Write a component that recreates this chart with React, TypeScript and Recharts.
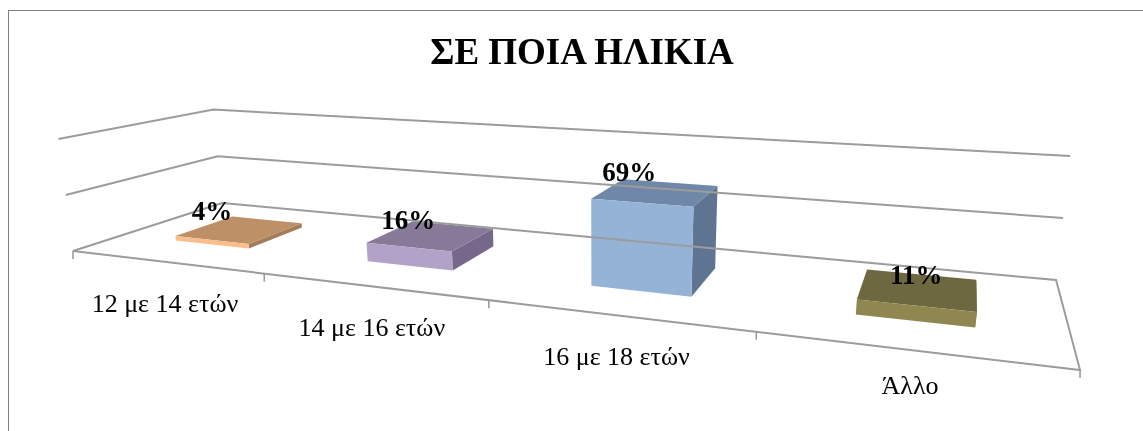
import React from 'react';
import { BarChart, Bar, XAxis, YAxis, ReferenceLine, LabelList } from 'recharts';

// ============================================================
// Excel-style 3D column chart. Recharts lays everything out on a
// flat plot; the shapes below project that plot onto the floor
// and walls of a perspective box.
// ============================================================

const TITLE = 'ΣΕ ΠΟΙΑ ΗΛΙΚΙΑ';
const CATEGORIES = ['12 με 14 ετών', '14 με 16 ετών', '16 με 18 ετών', 'Άλλο'];
const SHARES = [4, 16, 69, 11];
const GRID_VALUES = [0, 50, 100];

const FRONT_FILLS = ['#F9BE8B', '#B3A2C7', '#95B3D7', '#8F8650'];
const TOP_FILLS = ['#BD9068', '#877A99', '#6F87A8', '#6E6840'];
const SIDE_FILLS = ['#A37C59', '#75688A', '#5F7490', '#5E5836'];

// data labels sit off the bar centre, the way Excel left them
const LABEL_NUDGE = [[-28, -19], [-23, -16], [-27, -20], [-2, -14]];
// distance from the floor edge to each category label's baseline
const TICK_DROP = [50, 50, 50, 44];

const WIDTH = 1143;
const HEIGHT = 431;
const AXIS_HEIGHT = 1;
const PLOT_HEIGHT = HEIGHT - AXIS_HEIGHT;
const SERIF = '"Liberation Serif", "Times New Roman", serif';
const LINE = '#9C9C9C';

const chartData = CATEGORIES.map((name, i) => ({ name, share: SHARES[i] }));

// floor homography (u along the axis, v into the depth) plus wall height
function project(u: number, v: number, h: number): [number, number] {
  const w = -0.2965 * u + 0.1989 * v + 1;
  const px = (686.8 * u + 193.2 * v + 73) / w;
  const py = (9.3 * u - 7.6 * v + 251) / w;
  const lift = (h * 112) / w;
  const lean = (px - 600) / (4300 - py);
  return [px + lean * lift, py - lift];
}

function toPoints(corners: number[][]) {
  return corners.map(([u, v, h]) => project(u, v, h).join(',')).join(' ');
}

const DEPTH_NEAR = 0.3;
const DEPTH_FAR = 0.7;

function Box3D(props: any) {
  const { x, width, height, index } = props;
  const u0 = x / WIDTH;
  const u1 = (x + width) / WIDTH;
  const h = height / PLOT_HEIGHT;
  const [n, f] = [DEPTH_NEAR, DEPTH_FAR];
  return (
    <g>
      <polygon fill={SIDE_FILLS[index]} points={toPoints([[u1, n, 0], [u1, f, 0], [u1, f, h], [u1, n, h]])} />
      <polygon fill={TOP_FILLS[index]} points={toPoints([[u0, n, h], [u1, n, h], [u1, f, h], [u0, f, h]])} />
      <polygon fill={FRONT_FILLS[index]} points={toPoints([[u0, n, 0], [u1, n, 0], [u1, n, h], [u0, n, h]])} />
    </g>
  );
}

function WallLine(props: any) {
  const h = (PLOT_HEIGHT - props.y1) / PLOT_HEIGHT;
  const corners = h < 0.01
    ? [[0, 1, 0], [0, 0, 0], [1, 0, 0], [1, 1, 0], [0, 1, 0]]
    : [[0, 0, h], [0, 1, h], [1, 1, h]];
  return <polyline fill="none" stroke={LINE} strokeWidth={2} points={toPoints(corners)} />;
}

function CategoryTick(props: any) {
  const { x, index, payload } = props;
  const u = x / WIDTH;
  const step = 1 / CATEGORIES.length;
  const [cx, cy] = project(u, 0, 0);
  const edges = index === CATEGORIES.length - 1 ? [u - step / 2, u + step / 2] : [u - step / 2];
  return (
    <g>
      {edges.map((edge) => {
        const [ex, ey] = project(edge, 0, 0);
        return <line key={edge} x1={ex} y1={ey} x2={ex} y2={ey + 8} stroke={LINE} strokeWidth={1.6} />;
      })}
      <text x={cx} y={cy + TICK_DROP[index]} textAnchor="middle" fontFamily={SERIF} fontSize={26} fill="#000">
        {payload.value}
      </text>
    </g>
  );
}

function ShareLabel(props: any) {
  const { x, width, height, value, index } = props;
  const [lx, ly] = project((x + width / 2) / WIDTH, 0.5, height / PLOT_HEIGHT);
  const [dx, dy] = LABEL_NUDGE[index];
  return (
    <text x={lx + dx} y={ly + dy + 9} textAnchor="middle" fontFamily={SERIF} fontWeight="bold" fontSize={27} fill="#000">
      {value}%
    </text>
  );
}

export default function App() {
  return (
    <div style={{ position: 'absolute', left: 0, top: 0, width: WIDTH, height: HEIGHT, background: '#fff', overflow: 'hidden', filter: 'blur(0.5px)' }}>
      {/* chart frame: only the top and left edges are inside the crop */}
      <div style={{ position: 'absolute', left: 8, top: 10, width: 1160, height: 440, border: '1px solid #808080' }} />
      <div style={{ position: 'absolute', left: 0, width: 1164, top: 31, textAlign: 'center', fontFamily: SERIF, fontWeight: 'bold', fontSize: 37, lineHeight: '42px' }}>
        {TITLE}
      </div>
      <div style={{ position: 'absolute', left: 0, top: 0 }}>
        <BarChart
          width={WIDTH}
          height={HEIGHT}
          data={chartData}
          barCategoryGap="30%"
          margin={{ top: 0, right: 0, bottom: 0, left: 0 }}
        >
          <XAxis dataKey="name" height={AXIS_HEIGHT} axisLine={false} tickLine={false} interval={0} tick={<CategoryTick />} />
          <YAxis hide domain={[0, 100]} width={0} />
          {GRID_VALUES.map((value) => (
            <ReferenceLine key={value} y={value} shape={<WallLine />} />
          ))}
          <Bar dataKey="share" isAnimationActive={false} shape={<Box3D />}>
            <LabelList dataKey="share" content={<ShareLabel />} />
          </Bar>
        </BarChart>
      </div>
    </div>
  );
}
